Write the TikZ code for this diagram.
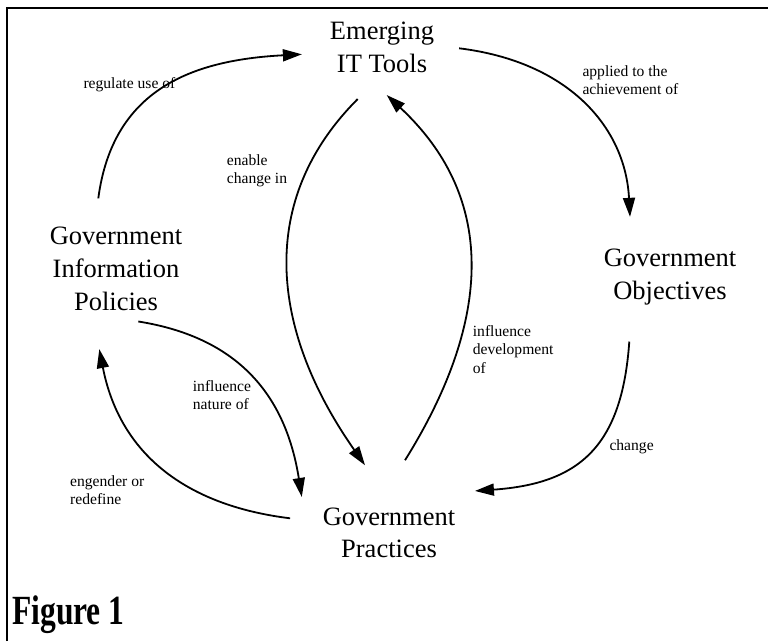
\documentclass[tikz,border=0pt]{standalone}
\usepackage{fontspec}
\setmainfont{Liberation Serif}
\usetikzlibrary{arrows.meta}

\begin{document}
\begin{tikzpicture}[x=1pt, y=1pt,
    concept/.style={inner sep=0pt, align=center, font=\fontsize{26.5}{32.7}\selectfont},
    note/.style={inner sep=0pt, anchor=north west, align=left, font=\fontsize{15.6}{18.4}\selectfont},
    link/.style={line width=1.8pt, -{Triangle[length=19pt, width=12pt]}}]

  % Fix the page size
  \useasboundingbox (0,0) rectangle (768,641);

  % Draw the frame (top and left sides only)
  \draw[line width=2.2pt] (7,0) -- (7,633.2) -- (768,633.2);

  % The four concepts
  \node[concept] (tools) at (382,593.7) {Emerging\\IT Tools};
  \node[concept] (objectives) at (670,364) {Government\\Objectives};
  \node[concept] (policies) at (116,372) {Government\\Information\\Policies};
  \node[concept] (practices) at (389,108.2) {Government\\Practices};

  % Outer cycle of links
  \draw[link] ([shift={(-17.7,28.8)}]policies.north)
    .. controls +(82.5:110) and +(183:110) .. ([shift={(-27.9,-7)}]tools.west);
  \draw[link] ([shift={(24.9,-1)}]tools.east)
    .. controls +(-7:110) and +(93:90) .. ([shift={(-40,32)}]objectives.north);
  \draw[link] ([shift={(-40.7,-36.4)}]objectives.south)
    .. controls +(266:105) and +(4:105) .. ([shift={(19.5,16.4)}]practices.north east);
  \draw[link] ([shift={(-32.5,14.5)}]practices.west)
    .. controls +(173:106) and +(281:106) .. ([shift={(-16.7,-38.3)}]policies.south);

  % Inner links
  \draw[link] ([shift={(22.3,-10.7)}]policies.south)
    .. controls +(-9:102) and +(99:102) .. ([shift={(-20.8,10.4)}]practices.north west);
  \draw[link] ([shift={(-24.3,-26.3)}]tools.south)
    .. controls +(225:142) and +(125:167) .. ([shift={(-24,42.1)}]practices.north);
  \draw[link] ([shift={(16,47.1)}]practices.north)
    .. controls +(58:121) and +(317:179) .. ([shift={(4.7,-22.3)}]tools.south);

  % Link labels
  \node[note] (regulate) at (83.3,563.4) {regulate use of};
  \node[note] (applied) at (582.3,576) {applied to the\\achievement of};
  \node[note] (enable) at (226.7,486.6) {enable\\change in};
  \node[note] (develop) at (472.7,315.6) {influence\\development\\of};
  \node[note] (nature) at (192.7,260.6) {influence\\nature of};
  \node[note] (engender) at (70,166) {engender or\\redefine};
  \node[note] (change) at (609.3,201.6) {change};

  % Caption
  \node[anchor=base west, inner sep=0pt, font=\fontsize{41.5}{45}\selectfont\bfseries]
    (caption) at (12,17) {\scalebox{0.76}[1]{Figure 1}};

\end{tikzpicture}
\end{document}
